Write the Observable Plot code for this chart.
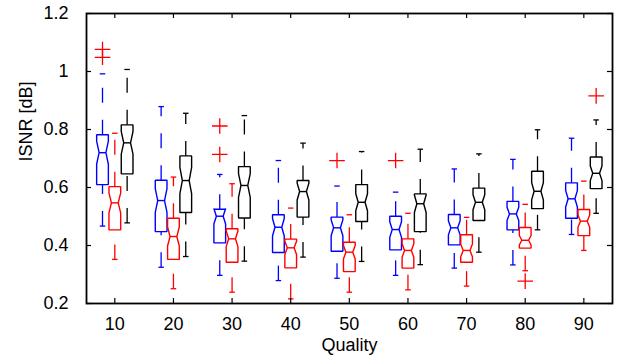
<!DOCTYPE html>
<html>
<head>
<meta charset="utf-8">
<script src="https://cdn.jsdelivr.net/npm/d3@7"></script>
<script src="https://cdn.jsdelivr.net/npm/@observablehq/plot@0.6"></script>
<style>
  html, body { margin: 0; padding: 0; background: #ffffff; }
  #chart svg { display: block; }
</style>
</head>
<body>
<div id="chart"></div>
<script>
// ---- data ----
const qualities = [10, 20, 30, 40, 50, 60, 70, 80, 90];
const xTickLabels = ["10", "20", "30", "40", "50", "60", "70", "80", "90"];
const yTicks = [0.2, 0.4, 0.6, 0.8, 1, 1.2];
const yTickLabels = ["0.2", "0.4", "0.6", "0.8", "1", "1.2"];

// blue series
const blueLo  = [0.467, 0.325, 0.297, 0.279, 0.287, 0.297, 0.322, 0.333, 0.438];
const blueQ1  = [0.610, 0.448, 0.409, 0.376, 0.380, 0.385, 0.402, 0.454, 0.494];
const blueMed = [0.720, 0.555, 0.501, 0.463, 0.461, 0.455, 0.461, 0.509, 0.561];
const blueQ3  = [0.782, 0.625, 0.525, 0.506, 0.498, 0.501, 0.507, 0.552, 0.616];
const blueHi  = [0.992, 0.879, 0.645, 0.693, 0.605, 0.584, 0.664, 0.697, 0.770];

// red series
const redLo  = [0.352, 0.251, 0.239, 0.216, 0.239, 0.247, 0.260, 0.313, 0.383];
const redQ1  = [0.454, 0.352, 0.342, 0.323, 0.310, 0.322, 0.342, 0.391, 0.434];
const redMed = [0.547, 0.431, 0.423, 0.392, 0.377, 0.383, 0.383, 0.418, 0.484];
const redQ3  = [0.603, 0.494, 0.458, 0.422, 0.411, 0.423, 0.437, 0.462, 0.524];
const redHi  = [0.787, 0.636, 0.613, 0.529, 0.506, 0.511, 0.497, 0.542, 0.622];

// black series
const blackLo  = [0.478, 0.362, 0.346, 0.360, 0.345, 0.334, 0.377, 0.454, 0.511];
const blackQ1  = [0.647, 0.514, 0.495, 0.498, 0.483, 0.448, 0.486, 0.527, 0.596];
const blackMed = [0.754, 0.624, 0.607, 0.586, 0.549, 0.544, 0.549, 0.587, 0.649];
const blackQ3  = [0.816, 0.709, 0.672, 0.624, 0.610, 0.578, 0.598, 0.656, 0.705];
const blackHi  = [1.007, 0.856, 0.848, 0.753, 0.724, 0.732, 0.716, 0.799, 0.833];

// outliers (all red "+"), with the box column they are drawn in
const outlierQuality = [10, 10, 30, 30, 50, 60, 80, 90];
const outlierValue   = [1.076, 1.049, 0.812, 0.714, 0.693, 0.693, 0.277, 0.916];
const outlierColumn  = [0, 0, 0, 0, 0, 0, 1, 2];

const sampleSize = 46; // estimated, sets notch height (1.57*IQR/sqrt(n))

// ---- layout/style settings ----
const colors = ["#0000ff", "#ff0000", "#000000"];
const colOffset = [-2.1, 0, 2.1];
const boxHalf = 1.0, medHalf = 0.58, capHalf = 0.47;
const xDomain = [5.17, 94.89];
const yDomain = [0.2, 1.2];

const series = [
  {lo: blueLo, q1: blueQ1, med: blueMed, q3: blueQ3, hi: blueHi},
  {lo: redLo, q1: redQ1, med: redMed, q3: redQ3, hi: redHi},
  {lo: blackLo, q1: blackQ1, med: blackMed, q3: blackQ3, hi: blackHi}
];

const notchFactor = 1.57 / Math.sqrt(sampleSize);

const boxesBySeries = series.map((s, si) => qualities.map((q, i) => ({
  id: si * 100 + i, cx: q + colOffset[si],
  lo: s.lo[i], q1: s.q1[i], med: s.med[i], q3: s.q3[i], hi: s.hi[i]
})));

function outline(b) {
  const n = notchFactor * (b.q3 - b.q1);
  const L = b.cx - boxHalf, R = b.cx + boxHalf, l = b.cx - medHalf, r = b.cx + medHalf;
  return [[L, b.q1], [L, b.med - n], [l, b.med], [L, b.med + n], [L, b.q3],
          [R, b.q3], [R, b.med + n], [r, b.med], [R, b.med - n], [R, b.q1]]
    .map(([x, y]) => ({id: b.id, x, y}));
}

const outliers = outlierQuality.map((q, i) => ({q, v: outlierValue[i], col: outlierColumn[i]}));

const plusSymbol = {
  draw(context, size) {
    const r = Math.sqrt(size / Math.PI);
    context.moveTo(-r, 0); context.lineTo(r, 0);
    context.moveTo(0, -r); context.lineTo(0, r);
  }
};

const marks = [];
boxesBySeries.forEach((boxes, si) => {
  const stroke = colors[si];
  const pts = boxes.flatMap(outline);
  marks.push(
    Plot.link(boxes, {x1: "cx", x2: "cx", y1: "lo", y2: "q1", stroke, strokeWidth: 1.3, strokeDasharray: "15,17"}),
    Plot.link(boxes, {x1: "cx", x2: "cx", y1: "q3", y2: "hi", stroke, strokeWidth: 1.3, strokeDasharray: "15,17"}),
    Plot.link(boxes, {x1: b => b.cx - capHalf, x2: b => b.cx + capHalf, y1: "lo", y2: "lo", stroke, strokeWidth: 1.3}),
    Plot.link(boxes, {x1: b => b.cx - capHalf, x2: b => b.cx + capHalf, y1: "hi", y2: "hi", stroke, strokeWidth: 1.3}),
    Plot.line(pts, {x: "x", y: "y", z: "id", stroke, strokeWidth: 1.4, curve: "linear-closed", strokeLinejoin: "miter"}),
    Plot.link(boxes, {x1: b => b.cx - medHalf, x2: b => b.cx + medHalf, y1: "med", y2: "med", stroke, strokeWidth: 1.4})
  );
});

marks.push(
  Plot.dot(outliers, {x: d => d.q + colOffset[d.col], y: "v", r: 7.8, symbol: plusSymbol, stroke: colors[1], strokeWidth: 1.3, fill: "none"}),
  // inward ticks on all four sides
  Plot.ruleX(qualities, {x: d => d, y1: yDomain[0], y2: yDomain[0], insetBottom: 5, stroke: "black", strokeWidth: 1.2}),
  Plot.ruleX(qualities, {x: d => d, y1: yDomain[1], y2: yDomain[1], insetTop: 5, stroke: "black", strokeWidth: 1.2}),
  Plot.ruleY(yTicks, {y: d => d, x1: xDomain[0], x2: xDomain[0], insetLeft: 5, stroke: "black", strokeWidth: 1.2}),
  Plot.ruleY(yTicks, {y: d => d, x1: xDomain[1], x2: xDomain[1], insetRight: 5, stroke: "black", strokeWidth: 1.2}),
  Plot.frame({stroke: "black", strokeWidth: 1.8}),
  Plot.axisX({ticks: qualities, tickSize: 0, tickPadding: 14, label: null,
    tickFormat: d => xTickLabels[qualities.indexOf(d)], fontSize: 18}),
  Plot.axisY({ticks: yTicks, tickSize: 0, tickPadding: 18, label: null,
    tickFormat: d => yTickLabels[yTicks.indexOf(d)], fontSize: 18}),
  Plot.text(["Quality"], {frameAnchor: "bottom", dy: 47.5, fontSize: 18}),
  Plot.text(["ISNR [dB]"], {frameAnchor: "left", dx: -60, dy: 3, rotate: -90, fontSize: 18})
);

const chart = Plot.plot({
  width: 619, height: 360,
  marginLeft: 86, marginRight: 7, marginTop: 13, marginBottom: 57,
  x: {domain: xDomain},
  y: {domain: yDomain},
  style: {fontFamily: "'Liberation Sans', Arial, Helvetica, sans-serif", fontSize: "18px", background: "#ffffff", color: "#000000"},
  marks
});
document.getElementById("chart").appendChild(chart);
</script>
</body>
</html>
